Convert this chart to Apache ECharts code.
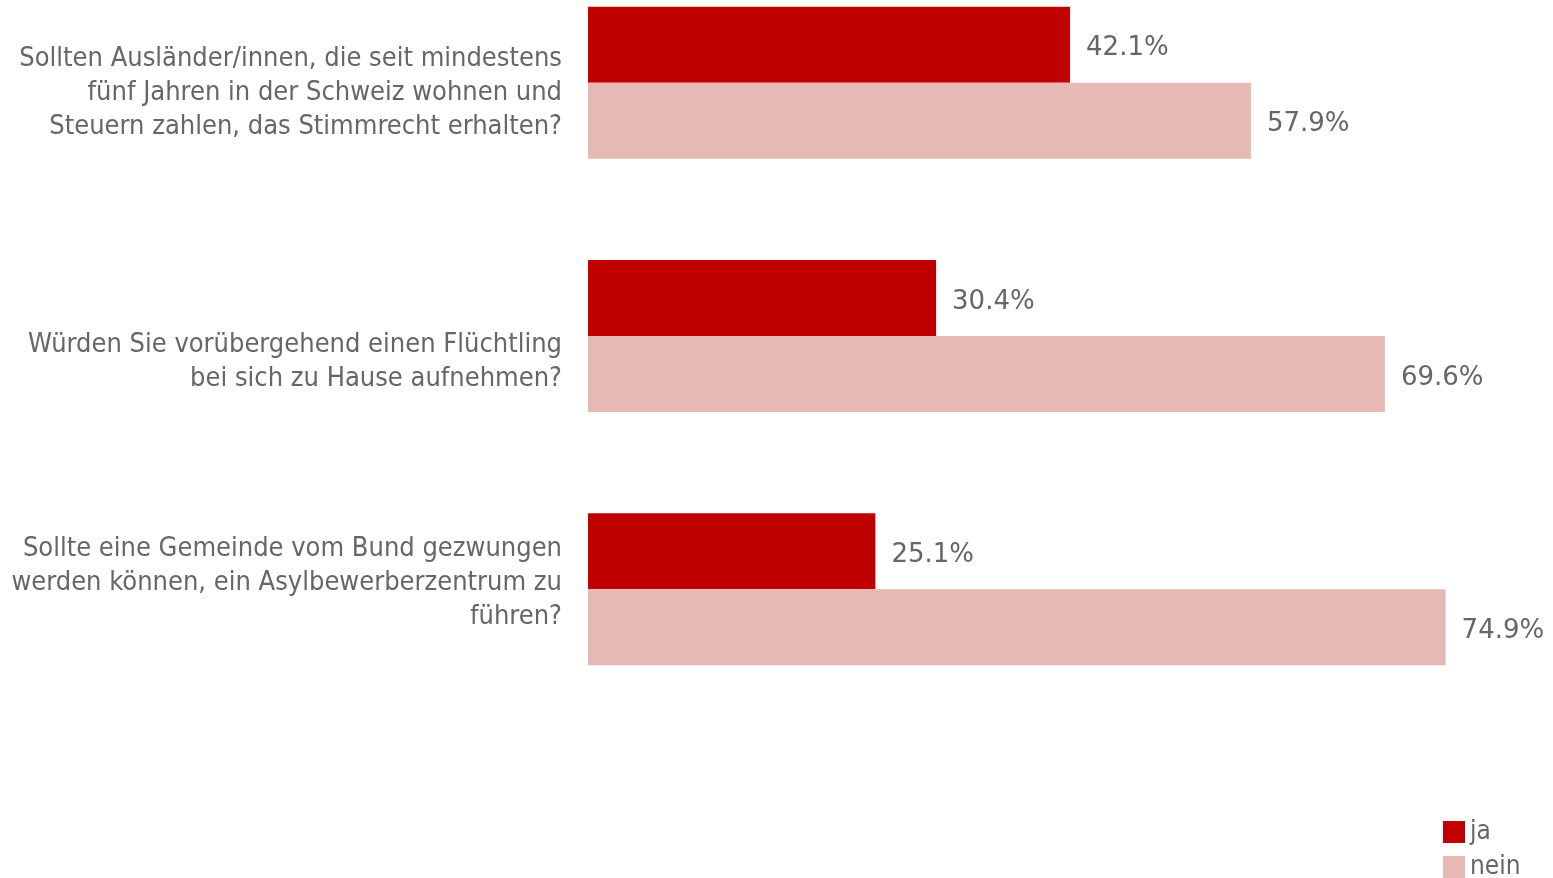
<!DOCTYPE html>
<html>
<head>
<meta charset="utf-8">
<script src="https://cdn.jsdelivr.net/npm/echarts@6/dist/echarts.min.js"></script>
<style>
  html, body { margin: 0; padding: 0; background: #fff; }
  #chart { width: 1553px; height: 878px; }
</style>
</head>
<body>
<div id="chart"></div>
<script>
// Fragen (Kategorien)
const questions = [
    'Sollten Ausländer/innen, die seit mindestens\nfünf Jahren in der Schweiz wohnen und\nSteuern zahlen, das Stimmrecht erhalten?',
    'Würden Sie vorübergehend einen Flüchtling\nbei sich zu Hause aufnehmen?',
    'Sollte eine Gemeinde vom Bund gezwungen\nwerden können, ein Asylbewerberzentrum zu\nführen?'
];
const jaValues = [42.1, 30.4, 25.1];
const neinValues = [57.9, 69.6, 74.9];
const seriesNames = ['ja', 'nein'];

const textColor = '#666666';
const fontName = 'DejaVu Sans Condensed, DejaVu Sans, sans-serif';
const numFont = 'DejaVu Sans, sans-serif';

var myChart = echarts.init(document.getElementById('chart'));

// Beschriftung sitzt im Original nicht genau mittig: Leerzeile oben (+) oder unten (-)
const labelShift = [20, 52, -12];

function valueLabel() {
    return {
        show: true, position: 'right', distance: 16, offset: [0, 4],
        color: textColor, fontSize: 26, fontFamily: numFont,
        formatter: p => p.value.toFixed(1) + '%'
    };
}

function legendItem(name, top) {
    return {
        left: 1443, top: top, padding: 0,
        itemWidth: 22, itemHeight: 22,
        icon: 'rect',
        data: [name],
        textStyle: { color: textColor, fontSize: 26, fontFamily: fontName }
    };
}

var option = {
    animation: false,
    grid: { left: 588, top: -44, width: 1145, height: 760, containLabel: false, outerBoundsMode: 'none' },
    legend: [legendItem(seriesNames[0], 819), legendItem(seriesNames[1], 854)],
    xAxis: {
        type: 'value',
        min: 0,
        max: 100,
        show: false
    },
    yAxis: {
        type: 'category',
        inverse: true,
        data: questions,
        axisLine: { show: false },
        axisTick: { show: false },
        axisLabel: {
            margin: 26,
            align: 'right',
            formatter: function (value, index) {
                var lines = value.split('\n').map(l => '{q|' + l + '}');
                var s = labelShift[index];
                if (s > 0) lines.unshift('{s' + s + '| }');
                if (s < 0) lines.push('{s' + (-s) + '| }');
                return lines.join('\n');
            },
            rich: {
                q: { color: textColor, fontSize: 27, lineHeight: 34, fontFamily: fontName, align: 'right' },
                s20: { fontSize: 1, lineHeight: 20 },
                s52: { fontSize: 1, lineHeight: 52 },
                s12: { fontSize: 1, lineHeight: 12 }
            }
        }
    },
    series: [
        {
            name: seriesNames[0],
            type: 'bar',
            data: jaValues,
            barGap: '0%',
            barCategoryGap: '40%',
            itemStyle: { color: '#C00000' },
            label: valueLabel()
        },
        {
            name: seriesNames[1],
            type: 'bar',
            data: neinValues,
            barGap: '0%',
            barCategoryGap: '40%',
            itemStyle: { color: '#E6B9B4' },
            label: valueLabel()
        }
    ]
};

myChart.setOption(option);
</script>
</body>
</html>
